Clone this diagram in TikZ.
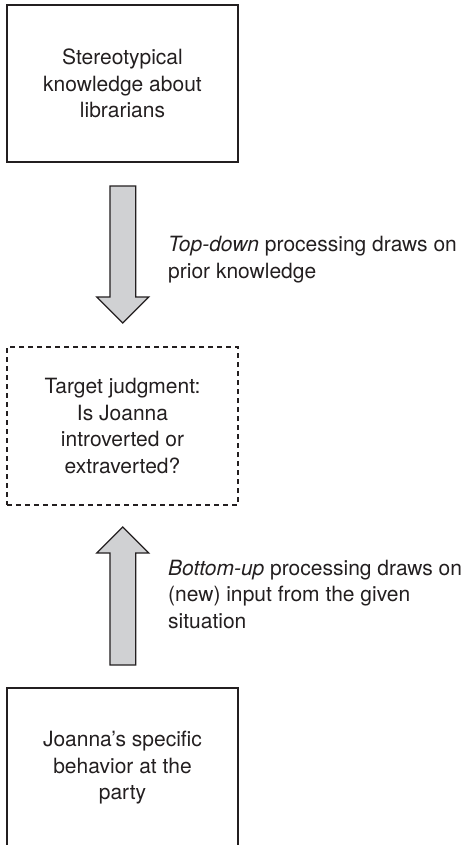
\documentclass[tikz,border=0pt]{standalone}
\usepackage{fontspec}
\setmainfont{TeX Gyre Heros}
\usetikzlibrary{calc}
\definecolor{inkline}{RGB}{35,31,32}
\definecolor{arrowfill}{RGB}{208,209,211}
\tikzset{
  stagebox/.style={draw=inkline, line width=1.2bp, minimum width=231bp, minimum height=157bp,
    inner sep=0pt, align=center, text=inkline, font=\fontsize{21bp}{26.5bp}\selectfont},
  guessbox/.style={stagebox, dashed, dash pattern=on 5bp off 4bp},
  blockarrow/.style={draw=inkline, line width=1.2bp, fill=arrowfill, line join=miter},
  sidenote/.style={inner sep=0pt, align=left, text=inkline, anchor=base west,
    font=\fontsize{21bp}{26.5bp}\selectfont}
}
\begin{document}
\begin{tikzpicture}[x=1bp,y=1bp]
  \useasboundingbox (0,0) rectangle (472,-845);

  % the three stages
  \node[stagebox] (prior) at (122.5,-83.5) {Stereotypical\\knowledge about\\librarians};
  \node[guessbox, minimum height=158bp] (target) at (122.5,-426) {Target judgment:\\Is Joanna\\introverted or\\extraverted?};
  \node[stagebox, minimum height=160bp] (input) at (122.5,-768) {Joanna’s specific\\behavior at the\\party};

  % block arrow: top-down
  \coordinate (dtail) at (122.8,-186);
  \coordinate (dtip) at (122.8,-323);
  \draw[blockarrow] ($(dtail)+(-12.85,0)$) -- ($(dtail)+(12.85,0)$) -- ($(dtip)+(12.85,26)$)
    -- ($(dtip)+(26,26)$) -- (dtip) -- ($(dtip)+(-26,26)$) -- ($(dtip)+(-12.85,26)$) -- cycle;

  % block arrow: bottom-up
  \coordinate (utail) at (122.8,-665);
  \coordinate (utip) at (122.8,-527);
  \draw[blockarrow] ($(utail)+(-12.85,0)$) -- ($(utail)+(12.85,0)$) -- ($(utip)+(12.85,-26)$)
    -- ($(utip)+(26,-26)$) -- (utip) -- ($(utip)+(-26,-26)$) -- ($(utip)+(-12.85,-26)$) -- cycle;

  % annotations (anchored on the baseline of their last line)
  \node[sidenote] (topdown) at (168,-278) {\textit{Top-down} processing draws on\\prior knowledge};
  \node[sidenote] (bottomup) at (168,-628) {\textit{Bottom-up} processing draws on\\(new) input from the given\\situation};
\end{tikzpicture}
\end{document}
